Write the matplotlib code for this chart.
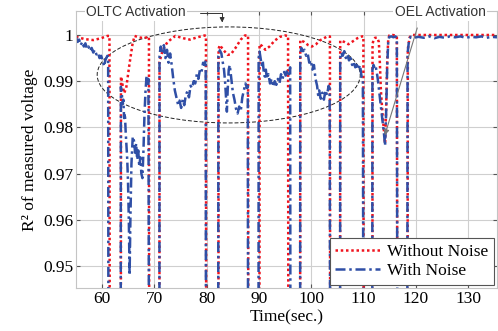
import matplotlib
matplotlib.use("Agg")
import matplotlib.pyplot as plt
from matplotlib.patches import Ellipse

LOW = 0.93  # drops that run below the visible range

red_t = [55.0, 56.7, 58.3, 59.8, 61.0, 61.4, 61.45,
         63.58, 63.6, 64.2, 64.6, 65.2, 65.8, 66.2, 67.0, 68.0, 68.8, 68.95, 69.0,
         70.95, 70.97, 71.6, 72.5, 74.0, 75.5, 76.8, 78.2, 79.6, 79.85, 79.9,
         82.24, 82.26, 82.5, 83.3, 84.0, 84.6, 85.5, 86.5, 87.3, 87.9, 87.95,
         90.08, 90.1, 90.6, 91.2, 92.0, 93.0, 94.0, 95.0, 95.55, 95.6,
         97.86, 97.88, 98.6, 99.4, 100.1, 100.9, 101.6, 102.9, 103.55, 103.6,
         105.5, 105.52, 106.3, 107.1, 107.9, 108.8, 109.7, 109.95, 110.0,
         111.68, 111.7, 111.9, 112.2, 112.6, 112.9, 113.1, 113.3, 113.6, 113.9,
         114.1, 114.3, 114.5, 114.7, 114.9, 115.5, 116.2, 116.35, 116.45,
         118.4, 118.45, 118.8, 119.2, 125.0, 130.0, 135.5]
red_v = [0.9996, 0.9991, 0.9989, 0.9993, 0.9998, 0.9998, LOW,
         LOW, 0.9910, 0.9874, 0.9885, 0.9935, 0.9980, 0.9998, 0.9995, 0.9993, 0.9996, 0.9996, LOW,
         LOW, 0.9942, 0.9968, 0.9985, 0.9998, 0.9993, 0.9990, 0.9995, 0.9999, 0.9998, LOW,
         LOW, 0.9970, 0.9978, 0.9966, 0.9957, 0.9958, 0.9972, 0.9990, 0.9999, 0.9999, LOW,
         LOW, 0.9980, 0.9976, 0.9968, 0.9975, 0.9988, 0.9996, 0.9999, 0.9998, LOW,
         LOW, 0.9989, 0.9985, 0.9978, 0.9975, 0.9980, 0.9988, 0.9996, 0.9997, LOW,
         LOW, 0.9988, 0.9985, 0.9980, 0.9986, 0.9993, 0.9997, 0.9997, LOW,
         LOW, 0.9980, 0.9990, 0.9994, 0.9994, 0.9985, 0.9940, 0.9880, 0.9830, 0.9790,
         0.9765, 0.9840, 0.9940, 0.9990, 0.9999, 1.0, 0.9999, 0.9995, LOW,
         LOW, 0.9970, 0.9995, 1.0, 1.0, 1.0, 1.0]

blue_t = [55.0, 55.3, 55.6, 55.9, 56.2, 56.5, 56.8, 57.1, 57.4, 57.7, 58.0, 58.3,
          58.6, 58.9, 59.2, 59.5, 59.8, 60.1, 60.4, 60.6, 60.8, 61.0, 61.15, 61.2,
          63.55, 63.58, 63.75, 63.9, 64.05, 64.2, 64.35, 64.5, 64.65, 64.8, 64.95,
          65.1, 65.2, 65.25, 65.4, 65.6, 65.85, 66.1, 66.3, 66.5, 66.7, 66.9, 67.1,
          67.3, 67.5, 67.7, 67.9, 68.1, 68.3, 68.5, 68.7, 68.85, 68.95,
          70.95, 70.97, 71.2, 71.5, 71.8, 72.1, 72.4, 72.7, 73.0, 73.3, 73.6, 73.9,
          74.2, 74.5, 74.8, 75.1, 75.4, 75.7, 76.0, 76.3, 76.6, 76.9, 77.2, 77.5,
          77.8, 78.1, 78.4, 78.7, 79.0, 79.3, 79.6, 79.8, 79.85,
          82.2, 82.22, 82.5, 82.8, 83.0, 83.3, 83.5, 83.7, 83.85, 84.0, 84.2, 84.4,
          84.6, 84.8, 85.0, 85.3, 85.6, 85.9, 86.2, 86.5, 86.8, 87.1, 87.4, 87.7,
          87.85, 87.9,
          89.9, 89.92, 90.1, 90.3, 90.5, 90.7, 90.9, 91.1, 91.3, 91.5, 91.8, 92.1,
          92.4, 92.7, 93.0, 93.3, 93.6, 93.9, 94.2, 94.5, 94.8, 95.1, 95.4, 95.7,
          95.95, 96.0,
          97.86, 97.88, 98.1, 98.4, 98.7, 99.0, 99.3, 99.6, 99.9, 100.2, 100.5,
          100.8, 101.1, 101.3, 101.5, 101.8, 102.1, 102.4, 102.7, 103.0, 103.3,
          103.5, 103.6,
          105.5, 105.52, 105.7, 106.0, 106.3, 106.6, 106.9, 107.2, 107.5, 107.8,
          108.1, 108.4, 108.7, 109.0, 109.3, 109.6, 109.85, 109.95,
          111.65, 111.68, 111.9, 112.1, 112.3, 112.5, 112.7, 112.9, 113.1, 113.3,
          113.5, 113.7, 113.9, 114.1, 114.3, 114.5, 114.7, 114.9, 115.3, 115.7,
          116.1, 116.35, 116.45,
          118.35, 118.4, 118.7, 119.0, 119.5, 120.5, 121.5, 122.5, 123.5, 124.5,
          125.5, 126.5, 127.5, 128.5, 129.5, 130.5, 131.5, 132.5, 133.5, 134.5, 135.5]
blue_v = [0.9995, 0.9985, 0.9990, 0.9978, 0.9985, 0.9975, 0.9982, 0.9970, 0.9975,
          0.9965, 0.9972, 0.9962, 0.9968, 0.9958, 0.9962, 0.9950, 0.9955, 0.9945,
          0.9932, 0.9945, 0.9950, 0.9955, 0.9952, LOW,
          LOW, 0.9888, 0.9875, 0.9850, 0.9860, 0.9820, 0.9830, 0.9790, 0.9760,
          0.9730, 0.9680, 0.9600, 0.9520, 0.9480, 0.9600, 0.9720, 0.9780, 0.9770,
          0.9745, 0.9765, 0.9730, 0.9750, 0.9715, 0.9735, 0.9700, 0.9690, 0.9750,
          0.9830, 0.9880, 0.9912, 0.9895, 0.9905, LOW,
          LOW, 0.9955, 0.9975, 0.9960, 0.9978, 0.9950, 0.9968, 0.9940, 0.9960,
          0.9935, 0.9905, 0.9880, 0.9865, 0.9850, 0.9858, 0.9842, 0.9860, 0.9848,
          0.9870, 0.9878, 0.9865, 0.9890, 0.9885, 0.9900, 0.9895, 0.9915, 0.9905,
          0.9925, 0.9920, 0.9940, 0.9935, 0.9945, LOW,
          LOW, 0.9955, 0.9967, 0.9960, 0.9945, 0.9925, 0.9900, 0.9860, 0.9834,
          0.9880, 0.9925, 0.9935, 0.9915, 0.9895, 0.9875, 0.9860, 0.9840, 0.9830,
          0.9845, 0.9835, 0.9865, 0.9880, 0.9895, 0.9885, 0.9890, LOW,
          LOW, 0.9950, 0.9964, 0.9950, 0.9935, 0.9945, 0.9920, 0.9910, 0.9925,
          0.9905, 0.9915, 0.9895, 0.9905, 0.9888, 0.9900, 0.9892, 0.9905, 0.9895,
          0.9915, 0.9905, 0.9920, 0.9912, 0.9925, 0.9915, 0.9930, LOW,
          LOW, 0.9960, 0.9972, 0.9965, 0.9968, 0.9955, 0.9960, 0.9940, 0.9945,
          0.9925, 0.9935, 0.9905, 0.9890, 0.9870, 0.9880, 0.9862, 0.9875, 0.9860,
          0.9880, 0.9870, 0.9890, 0.9885, LOW,
          LOW, 0.9950, 0.9962, 0.9955, 0.9965, 0.9950, 0.9958, 0.9945, 0.9950,
          0.9935, 0.9942, 0.9930, 0.9935, 0.9925, 0.9935, 0.9910, 0.9905, LOW,
          LOW, 0.9925, 0.9935, 0.9928, 0.9932, 0.9920, 0.9905, 0.9885, 0.9865,
          0.9845, 0.9825, 0.9805, 0.9785, 0.9760, 0.9830, 0.9930, 0.9985, 0.9996,
          0.9997, 0.9995, 0.9997, 0.9993, LOW,
          LOW, 0.9960, 0.9990, 0.9996, 0.9994, 0.9996, 0.9994, 0.9997, 0.9993,
          0.9996, 0.9994, 0.9997, 0.9995, 0.9997, 0.9994, 0.9996, 0.9995, 0.9997,
          0.9994, 0.9996, 0.9995]

yticks = [0.95, 0.96, 0.97, 0.98, 0.99, 1.0]
ytick_labels = ["0.95", "0.96", "0.97", "0.98", "0.99", "1"]
xticks = [60, 70, 80, 90, 100, 110, 120, 130]

serif = ["Liberation Serif", "DejaVu Serif"]
plt.rcParams["font.family"] = serif

fig = plt.figure(figsize=(4.98, 3.31), dpi=100)
ax = fig.add_axes([0.1526, 0.1299, 0.8454, 0.8369])

ax.plot(red_t, red_v, color="#f0141e", lw=1.8, linestyle=(0, (1, 1.1)),
        label="Without Noise")
ax.plot(blue_t, blue_v, color="#2f4fa6", lw=1.8, linestyle=(0, (4, 1.5, 1, 1.5)),
        label="With Noise")

ax.set_xlim(55, 135.5)
ax.set_ylim(0.9452, 1.0052)
ax.set_xticks(xticks)
ax.set_yticks(yticks)
ax.set_yticklabels(ytick_labels)
ax.grid(True, color="#cfcfcf", lw=0.8)
ax.set_axisbelow(True)
ax.tick_params(direction="in", length=3, width=0.8, color="#555555",
               top=True, right=True, labelsize=12.5, pad=2)
for s in ax.spines.values():
    s.set_color("#c4c4c4")
    s.set_linewidth(0.8)

ax.set_xlabel("Time(sec.)", fontsize=12.5, labelpad=2)
ax.set_ylabel("R² of measured voltage", fontsize=12.5, labelpad=4)

# annotation ellipse around the tap-changer region
ax.add_patch(Ellipse((84.2, 0.99135), 50.3, 0.0208, fill=False,
                     linestyle=(0, (4, 2)), lw=0.7, color="#222222"))

sans = ["Liberation Sans", "DejaVu Sans"]
ax.text(66.5, 1.0049, "OLTC Activation", family=sans, fontsize=10,
        color="#333333", ha="center", va="center", clip_on=False,
        bbox=dict(facecolor="white", edgecolor="none", pad=1))
ax.annotate("", xy=(82.94, 1.0021), xytext=(78.2, 1.00476),
            arrowprops=dict(arrowstyle="-|>", color="#333333", lw=0.7,
                            mutation_scale=7,
                            connectionstyle="angle,angleA=0,angleB=90,rad=0"))
ax.text(124.6, 1.0049, "OEL Activation", family=sans, fontsize=10,
        color="#333333", ha="center", va="center", clip_on=False,
        bbox=dict(facecolor="white", edgecolor="none", pad=1))
ax.annotate("", xy=(113.9, 0.9777), xytext=(120.4, 1.0021),
            arrowprops=dict(arrowstyle="-|>", color="#777777", lw=0.8,
                            mutation_scale=8))

leg = ax.legend(loc="lower right", fontsize=12.5, fancybox=False, framealpha=1,
                edgecolor="#555555", borderaxespad=0.2, handlelength=2.6,
                borderpad=0.3, labelspacing=0.2, handletextpad=0.4)
leg.get_frame().set_linewidth(0.8)

fig.savefig("out.png", dpi=100)
